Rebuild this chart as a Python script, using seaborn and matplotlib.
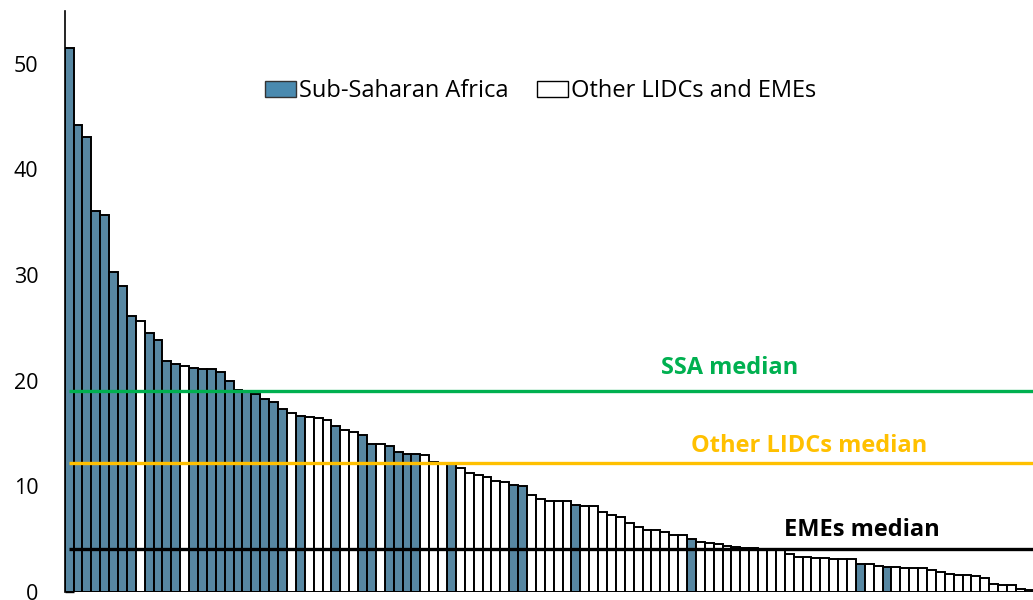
import numpy as np
import pandas as pd
import matplotlib.pyplot as plt
import seaborn as sns
from matplotlib.patches import Patch

# Bar heights, sorted descending
values = [51.5, 44.2, 43.1, 36.1, 35.7, 30.3, 29.0, 26.1, 25.7, 24.5,
          23.9, 21.9, 21.6, 21.4, 21.25, 21.1, 21.1, 20.85, 20.0, 19.1,
          18.9, 18.75, 18.3, 18.0, 17.3, 16.9, 16.65, 16.6, 16.5, 16.3,
          15.7, 15.3, 15.1, 14.9, 14.0, 14.0, 13.8, 13.3, 13.1, 13.05,
          12.95, 12.3, 12.25, 12.1, 11.7, 11.3, 11.1, 10.9, 10.55, 10.45,
          10.1, 10.05, 9.2, 8.8, 8.65, 8.6, 8.6, 8.2, 8.1, 8.1,
          7.6, 7.3, 7.1, 6.5, 6.2, 5.9, 5.85, 5.65, 5.4, 5.4,
          5.05, 4.75, 4.65, 4.55, 4.4, 4.3, 4.2, 4.15, 4.1, 4.05,
          4.0, 3.6, 3.3, 3.3, 3.25, 3.2, 3.1, 3.1, 3.1, 2.65,
          2.65, 2.5, 2.4, 2.4, 2.25, 2.25, 2.25, 2.05, 1.85, 1.75,
          1.65, 1.6, 1.55, 1.3, 0.8, 0.7, 0.7, 0.3, 0.2]

# 1 = Sub-Saharan Africa, 0 = other LIDCs and EMEs
is_ssa = [1, 1, 1, 1, 1, 1, 1, 1, 0, 1,
          1, 1, 1, 0, 1, 1, 1, 1, 1, 1,
          1, 1, 1, 1, 1, 0, 1, 0, 0, 0,
          1, 0, 0, 1, 1, 0, 1, 1, 1, 1,
          0, 0, 0, 1, 0, 0, 0, 0, 0, 0,
          1, 1, 0, 0, 0, 0, 0, 1, 0, 0,
          0, 0, 0, 0, 0, 0, 0, 0, 0, 0,
          1, 0, 0, 0, 0, 0, 0, 0, 0, 0,
          0, 0, 0, 0, 0, 0, 0, 0, 0, 1,
          0, 0, 1, 0, 0, 0, 0, 0, 0, 0,
          0, 0, 0, 0, 0, 0, 0, 0, 0]

group_names = ["Sub-Saharan Africa", "Other LIDCs and EMEs"]
median_labels = ["SSA median", "Other LIDCs median", "EMEs median"]
median_values = [19.05, 12.2, 4.1]
median_colors = ["#00B050", "#FFC000", "#000000"]

blue = "#4A8AAF"

df = pd.DataFrame({
    "country": np.arange(len(values)),
    "value": values,
    "group": [group_names[0] if s else group_names[1] for s in is_ssa],
})

sns.set_style("white")
plt.rcParams["font.family"] = ["Open Sans", "DejaVu Sans"]
plt.rcParams["text.color"] = "black"
plt.rcParams["ytick.color"] = "black"

fig = plt.figure(figsize=(10.33, 6), dpi=100)
ax = fig.add_axes([64.7 / 1033, 8 / 600, 969 / 1033, 581 / 600])

sns.barplot(data=df, x="country", y="value", hue="group",
            hue_order=group_names, palette=[blue, "white"],
            dodge=False, width=1.0, edgecolor="black", linewidth=1.4,
            legend=False, ax=ax)

# Median lines and their labels
n = len(values)
label_x = [74.3, 83.2, 89.2]
label_y = [20.6, 13.3, 5.27]
for lab, val, col, lx, ly in zip(median_labels, median_values, median_colors, label_x, label_y):
    ax.hlines(val, 0, n - 0.5, color=col, linewidth=2.4, zorder=5)
    ax.text(lx, ly, lab, color=col, fontsize=17, fontweight="bold",
            ha="center", va="baseline")

ax.set_xlim(-0.5, n - 0.5)
ax.set_ylim(0, 55)
ax.set_yticks([0, 10, 20, 30, 40, 50])
ax.set_xticks([])
ax.set_xlabel("")
ax.set_ylabel("")
ax.tick_params(axis="y", direction="in", length=6.5, width=1, pad=19,
               labelsize=15.5, colors="black", left=True)
for side in ["top", "right", "bottom"]:
    ax.spines[side].set_visible(False)
ax.spines["left"].set_color("black")
ax.spines["left"].set_linewidth(1.2)

handles = [Patch(facecolor=blue, edgecolor="#333333", linewidth=1.0),
           Patch(facecolor="white", edgecolor="black", linewidth=1.0)]
ax.legend(handles, group_names, loc="center", bbox_to_anchor=(0.4915, 0.862),
          ncol=2, frameon=False, fontsize=17, handlelength=1.3,
          handletextpad=0.15, columnspacing=1.2, handleheight=0.7,
          labelcolor="black")

fig.savefig("out.png", dpi=100)
